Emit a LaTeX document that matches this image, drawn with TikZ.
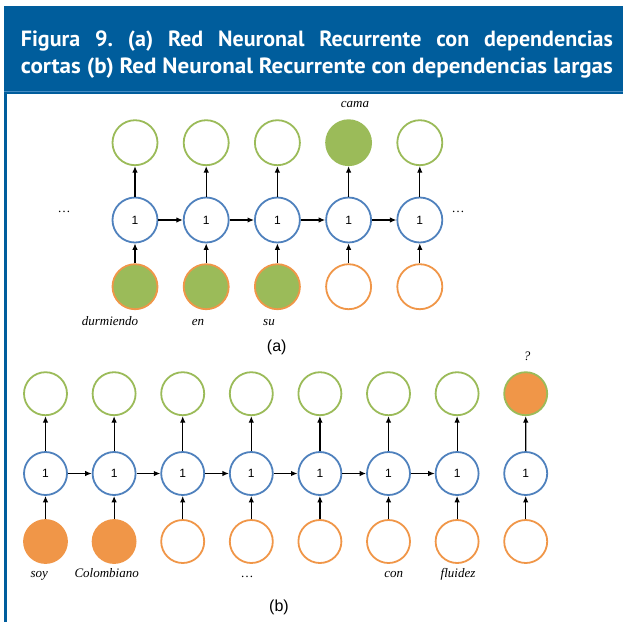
\documentclass[tikz,border=0pt]{standalone}
\usepackage{fontspec}
\setmainfont{Liberation Serif}
\setsansfont{Liberation Sans}
\newfontfamily\headfont{PT Sans}
\usetikzlibrary{arrows.meta}
\definecolor{hblue}{RGB}{0,93,156}
\definecolor{hlight}{RGB}{70,140,195}
\definecolor{cgreen}{RGB}{155,187,89}
\definecolor{cblue}{RGB}{79,129,189}
\definecolor{corange}{RGB}{240,150,72}
\frenchspacing
\begin{document}
\begin{tikzpicture}[x=1pt,y=-1pt,
  cellA/.style={circle,minimum size=45pt,inner sep=0pt,line width=1.8pt},
  cellB/.style={circle,minimum size=43pt,inner sep=0pt,line width=1.8pt},
  outc/.style={draw=cgreen,fill=white},
  hidc/.style={draw=cblue,fill=white,font=\sffamily\fontsize{12}{12}\selectfont},
  inpc/.style={draw=corange,fill=white},
  arr/.style={-{Latex[length=6.5pt,width=5.5pt]},line width=1.2pt,black},
  word/.style={font=\itshape\fontsize{13}{13}\selectfont,inner sep=0pt,anchor=base},
  dotsl/.style={font=\fontsize{13}{13}\selectfont,inner sep=0pt,anchor=base},
  subcap/.style={font=\sffamily\fontsize{16}{16}\selectfont,inner sep=0pt,anchor=base},
  headtxt/.style={font=\headfont\bfseries\fontsize{22}{22}\selectfont,text=white,inner sep=0pt,anchor=base west}
]
\useasboundingbox (0,0) rectangle (623,622);
% header
\fill[hblue] (4,6) rectangle (623,94);
\draw[hlight,line width=1.2pt] (4,91.6) -- (623,91.6);
\fill[hblue] (4,94) rectangle (6.7,622);
\node[headtxt] (h1) at (20.7,46) {\makebox[592pt][s]{Figura 9. (a) Red Neuronal Recurrente con dependencias}};
\node[headtxt] (h2) at (20.7,73.3) {\resizebox{592pt}{\height}{cortas (b) Red Neuronal Recurrente con dependencias largas}};

% ---------- part (a)
\foreach \i/\f in {1/white,2/white,3/white,4/cgreen,5/white}
  \node[cellA,outc,fill=\f] (ao\i) at ({135+71.2*(\i-1)},142.7) {};
\foreach \i in {1,...,5}
  \node[cellA,hidc] (ah\i) at ({135+71.2*(\i-1)},220) {1};
\foreach \i/\f in {1/cgreen,2/cgreen,3/cgreen,4/white,5/white}
  \node[cellA,inpc,fill=\f] (ai\i) at ({135+71.2*(\i-1)},286.7) {};
\foreach \i in {1,...,5} {
  \draw[arr] (ai\i) -- (ah\i);
  \draw[arr] (ah\i) -- (ao\i);
}
\foreach \i/\j in {1/2,2/3,3/4,4/5}
  \draw[arr] (ah\i) -- (ah\j);
\node[dotsl] (adl) at (64,212) {\dots};
\node[dotsl] (adr) at (458,212) {\dots};
\node[word] (wcama) at (355,107.3) {cama};
\node[word] (wdur) at (110,325.5) {durmiendo};
\node[word] (wen) at (198,325.5) {en};
\node[word] (wsu) at (269,325.5) {su};
\node[subcap] (capa) at (276.7,351) {(a)};

% ---------- part (b)
\foreach \i in {1,...,7}
  \node[cellB,outc] (bo\i) at ({45.5+68.6*(\i-1)},393.7) {};
\node[cellB,outc,fill=corange] (bo8) at (525.7,393.7) {};
\foreach \i in {1,...,8}
  \node[cellB,hidc] (bh\i) at ({45.5+68.6*(\i-1)},473.5) {1};
\foreach \i/\f in {1/corange,2/corange,3/white,4/white,5/white,6/white,7/white,8/white}
  \node[cellB,inpc,fill=\f] (bi\i) at ({45.5+68.6*(\i-1)},541.5) {};
\foreach \i in {1,...,8} {
  \draw[arr] (bi\i) -- (bh\i);
  \draw[arr] (bh\i) -- (bo\i);
}
\foreach \i/\j in {1/2,2/3,3/4,4/5,5/6,6/7}
  \draw[arr] (bh\i) -- (bh\j);
\node[word] (wq) at (527,360) {?};
\node[word] (wsoy) at (39.3,577.5) {soy};
\node[word] (wcol) at (106.7,577.5) {Colombiano};
\node[dotsl] (bdots) at (247,577.5) {\dots};
\node[word] (wcon) at (393.7,577.5) {con};
\node[word] (wflu) at (458,577.5) {fluidez};
\node[subcap] (capb) at (279,611) {(b)};
\end{tikzpicture}
\end{document}
